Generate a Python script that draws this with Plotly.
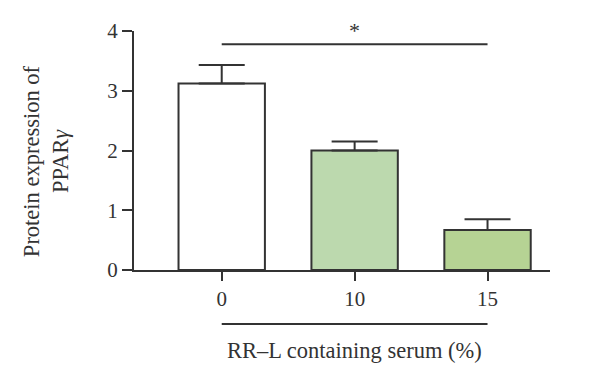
import plotly.graph_objects as go

categories = ["0", "10", "15"]
values = [3.12, 2.00, 0.67]
errors_up = [0.31, 0.15, 0.18]
bar_colors = ["#ffffff", "#bcd9ae", "#b6d394"]
y_ticks = [0, 1, 2, 3, 4]

ink = "#333333"
font_family = "Liberation Serif, Times New Roman, serif"

fig = go.Figure()
fig.add_trace(go.Bar(
    x=categories, y=values,
    width=0.65,
    marker=dict(color=bar_colors, line=dict(color=ink, width=2)),
    error_y=dict(type="data", symmetric=False, array=errors_up,
                 arrayminus=[0, 0, 0], color=ink, thickness=2, width=23),
    showlegend=False,
))

# significance bracket line and star
fig.add_shape(type="line", xref="x", yref="y", x0=0, x1=2, y0=3.78, y1=3.78,
              line=dict(color=ink, width=2))
fig.add_annotation(x=1, y=1.0, xref="x", yref="paper", text="*", showarrow=False,
                   font=dict(family=font_family, size=22, color=ink),
                   yanchor="bottom", yshift=-14)

# group line under x tick labels
fig.add_shape(type="line", xref="x", yref="paper", x0=0, x1=2, y0=-0.226, y1=-0.226,
              line=dict(color=ink, width=2))
fig.add_annotation(x=1, y=-0.335, xref="x", yref="paper", text="RR–L containing serum (%)",
                   showarrow=False, yanchor="middle",
                   font=dict(family=font_family, size=22.5, color=ink))

# y-axis title
fig.add_annotation(x=-0.21, y=0.454, xref="paper", yref="paper",
                   text="Protein expression of<br>PPAR<i>γ</i>", textangle=-90,
                   showarrow=False, xanchor="center", yanchor="middle",
                   font=dict(family=font_family, size=22.5, color=ink))

fig.update_layout(
    width=600, height=383,
    margin=dict(l=126, r=58, t=23, b=121),
    paper_bgcolor="white", plot_bgcolor="white",
    font=dict(family=font_family, size=21, color=ink),
    bargap=0.35,
)
fig.update_xaxes(range=[-0.66, 2.47], showline=True, linecolor=ink, linewidth=2,
                 ticks="outside", ticklen=9, tickwidth=2, tickcolor=ink,
                 showgrid=False, zeroline=False)
fig.update_yaxes(range=[0, 4], tickvals=y_ticks, showline=True, linecolor=ink, linewidth=2,
                 ticks="outside", ticklen=10, tickwidth=2, tickcolor=ink,
                 showgrid=False, zeroline=False)

fig.write_html("out.html")
